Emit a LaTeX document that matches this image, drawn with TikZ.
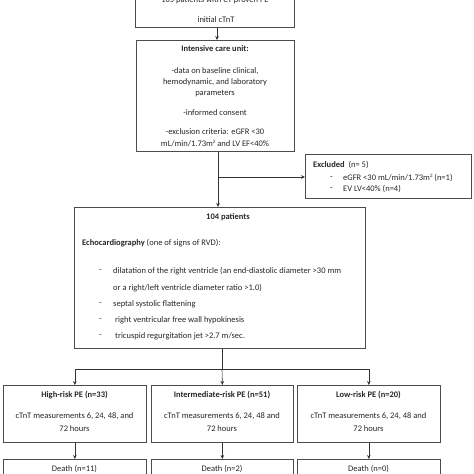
\documentclass[tikz,border=0pt]{standalone}
\usepackage{fontspec}
\setmainfont{Carlito}
\usetikzlibrary{arrows.meta}
\newcommand{\sqsup}{\raisebox{3pt}{\fontsize{5}{5}\selectfont 2}}
\begin{document}
\begin{tikzpicture}[x=1pt,y=-1pt,
  box/.style={draw=black!70,line width=0.7pt,anchor=north west,inner sep=0pt,minimum width=#1},
  txt/.style={inner sep=0pt,font=\fontsize{8.5}{12}\selectfont,text=black!85},
  btxt/.style={txt,font=\fontsize{8.5}{12}\selectfont\bfseries},
  ltxt/.style={txt,anchor=west},
  con/.style={draw=black!80,line width=0.6pt},
  arr/.style={con,-{Stealth[length=4pt,width=3.6pt]}}]
\useasboundingbox (0,0) rectangle (474,474);
\clip (0,0) rectangle (474,474);
% boxes
\node[box=159pt,minimum height=47pt] (top) at (135,-20) {};
\node[box=158pt,minimum height=111pt] (icu) at (136,40) {};
\node[box=166pt,minimum height=44pt] (excl) at (305,154) {};
\node[box=291pt,minimum height=141pt] (b104) at (74,207) {};
\node[box=143pt,minimum height=57pt] (high) at (3,385) {};
\node[box=142pt,minimum height=57pt] (inter) at (151,385) {};
\node[box=143pt,minimum height=57pt] (low) at (297,385) {};
\node[box=143pt,minimum height=40pt] (dhigh) at (3,459) {};
\node[box=142pt,minimum height=40pt] (dinter) at (151,459) {};
\node[box=143pt,minimum height=40pt] (dlow) at (297,459) {};
% texts
\node[txt] (t1) at (215,0) {105 patients with CT proven PE};
\node[txt] (t2) at (216,20) {initial cTnT};
\node[btxt] (i1) at (215,49) {Intensive care unit:};
\node[txt] (i2) at (215,71) {-data on baseline clinical,};
\node[txt] (i3) at (215,82) {hemodynamic, and laboratory};
\node[txt] (i4) at (215,93) {parameters};
\node[txt] (i5) at (215,113) {-informed consent};
\node[txt] (i6) at (215,132) {-exclusion criteria: eGFR <30};
\node[txt] (i7) at (215,144) {mL/min/1.73m\sqsup\ and LV EF<40\%};
\node[ltxt] (e1) at (313,165) {\textbf{Excluded}\ \ (n= 5)};
\node[ltxt] (e2) at (330,178) {-};
\node[ltxt] (e3) at (343,178) {eGFR <30 mL/min/1.73m\sqsup\ (n=1)};
\node[ltxt] (e4) at (330,189) {-};
\node[ltxt] (e5) at (343,189) {EV LV<40\% (n=4)};
\node[btxt] (p1) at (228,217) {104 patients};
\node[ltxt] (p2) at (82,243) {\textbf{Echocardiography} (one of signs of RVD):};
\node[ltxt] (p3) at (99,271) {-};
\node[ltxt] (p4) at (113,271) {dilatation of the right ventricle (an end-diastolic diameter >30 mm};
\node[ltxt] (p5) at (113,288) {or a right/left ventricle diameter ratio >1.0)};
\node[ltxt] (p6) at (99,304) {-};
\node[ltxt] (p7) at (113,304) {septal systolic flattening};
\node[ltxt] (p8) at (99,320) {-};
\node[ltxt] (p9) at (115,320) {right ventricular free wall hypokinesis};
\node[ltxt] (p10) at (99,336) {-};
\node[ltxt] (p11) at (115,336) {tricuspid regurgitation jet >2.7 m/sec.};
\node[btxt] (h1) at (74.5,395) {High-risk PE (n=33)};
\node[txt] (h2) at (74.5,416) {cTnT measurements 6, 24, 48, and};
\node[txt] (h3) at (74.5,429) {72 hours};
\node[btxt] (m1) at (222,395) {Intermediate-risk PE (n=51)};
\node[txt] (m2) at (222,416) {cTnT measurements 6, 24, 48 and};
\node[txt] (m3) at (222,429) {72 hours};
\node[btxt] (l1) at (368.5,395) {Low-risk PE (n=20)};
\node[txt] (l2) at (368.5,416) {cTnT measurements 6, 24, 48 and};
\node[txt] (l3) at (368.5,429) {72 hours};
\node[txt] (d1) at (74.5,469) {Death (n=11)};
\node[txt] (d2) at (222,469) {Death (n=2)};
\node[txt] (d3) at (368.5,469) {Death (n=0)};
% connectors
\coordinate (br) at (218,177);
\coordinate (split) at (222,369);
\draw[arr] (top.south -| 217,0) -- (icu.north -| 217,0);
\draw[arr] (icu.south -| br) -- (b104.north -| br);
\draw[arr] (br) -- (br -| excl.west);
\draw[con] (b104.south -| split) -- (split);
\draw[con] (split -| high.north) -- (split -| low.north);
\draw[arr] (split -| high.north) -- (high.north);
\draw[arr] (split) -- (inter.north);
\draw[arr] (split -| low.north) -- (low.north);
\draw[arr] (high) -- (dhigh);
\draw[arr] (inter) -- (dinter);
\draw[arr] (low) -- (dlow);
\end{tikzpicture}
\end{document}
